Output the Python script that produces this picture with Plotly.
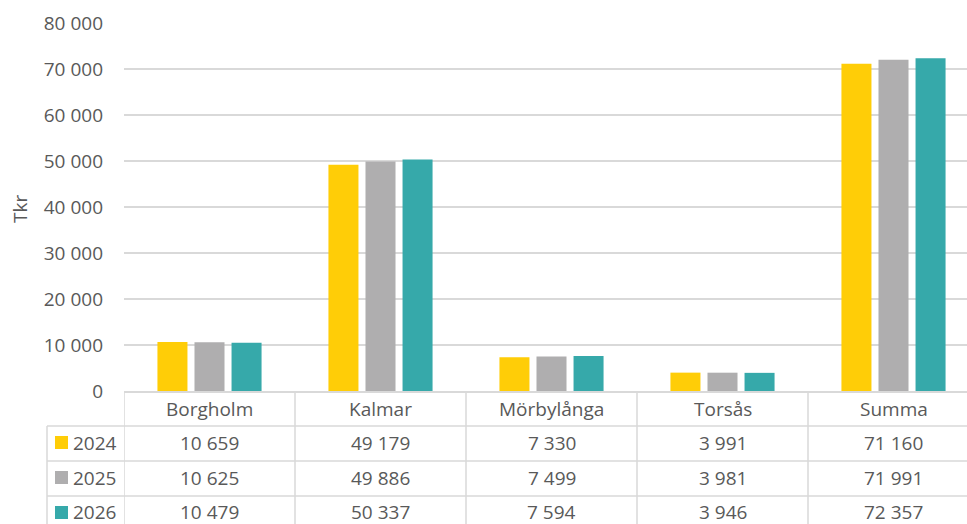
import plotly.graph_objects as go

categories = ["Borgholm", "Kalmar", "Mörbylånga", "Torsås", "Summa"]
years = ["2024", "2025", "2026"]
values_2024 = [10659, 49179, 7330, 3991, 71160]
values_2025 = [10625, 49886, 7499, 3981, 71991]
values_2026 = [10479, 50337, 7594, 3946, 72357]
colors = ["#FFCD07", "#AFAEAF", "#36A9AA"]
y_ticks = [0, 10000, 20000, 30000, 40000, 50000, 60000, 70000, 80000]

series = [values_2024, values_2025, values_2026]

W, H = 967, 524
ML, MR, MT, MB = 124, 0, 23, 133
PW = W - ML - MR
PH = H - MT - MB
CAT_PX = 171.0
x_idx = list(range(len(categories)))
x_max = -0.5 + PW / CAT_PX

TEXT = "#595959"
GRID = "#D9D9D9"
FONT = "Open Sans"
FS = 19


def px_x(p):
    return (p - ML) / PW


def px_y(p):
    return (MT + PH - p) / PH


def fmt(v):
    return f"{v:,}".replace(",", " ")


fig = go.Figure()
for yr, vals, col in zip(years, series, colors):
    fig.add_trace(go.Bar(x=x_idx, y=vals, name=yr, marker=dict(color=col, line=dict(width=0)),
                         hoverinfo="x+y+name"))

shapes = []
annotations = []

row_lines = [426, 461, 496]
for p in row_lines:
    shapes.append(dict(type="line", xref="paper", yref="paper", x0=px_x(47), x1=1,
                       y0=px_y(p), y1=px_y(p), line=dict(color=GRID, width=1.5), layer="above"))
# vertical lines of table
shapes.append(dict(type="line", xref="paper", yref="paper", x0=px_x(47), x1=px_x(47),
                   y0=px_y(426), y1=px_y(H + 5), line=dict(color=GRID, width=1.5)))
for i in range(len(categories)):
    xb = i - 0.5
    shapes.append(dict(type="line", xref="x", yref="paper", x0=xb, x1=xb,
                       y0=px_y(392), y1=px_y(H + 5), line=dict(color=GRID, width=1.5)))

header_y = px_y(408.5)
row_y = [px_y(442.5), px_y(477.5), px_y(511.5)]
for i, c in enumerate(categories):
    annotations.append(dict(x=i, y=header_y, xref="x", yref="paper", text=c, showarrow=False,
                            font=dict(family=FONT, size=FS, color=TEXT), xanchor="center", yanchor="middle"))
    for r, vals in enumerate(series):
        annotations.append(dict(x=i, y=row_y[r], xref="x", yref="paper", text=fmt(vals[i]), showarrow=False,
                                font=dict(family=FONT, size=FS, color=TEXT), xanchor="center", yanchor="middle"))

for r, (yr, col) in enumerate(zip(years, colors)):
    cy = 442.5 + 35 * r
    shapes.append(dict(type="rect", xref="paper", yref="paper", x0=px_x(55), x1=px_x(68),
                       y0=px_y(cy - 6.5), y1=px_y(cy + 6.5), fillcolor=col, line=dict(width=0)))
    annotations.append(dict(x=px_x(71), y=row_y[r], xref="paper", yref="paper", text=yr, showarrow=False,
                            font=dict(family=FONT, size=FS, color=TEXT), xanchor="left", yanchor="middle"))

annotations.append(dict(x=px_x(20), y=px_y(209), xref="paper", yref="paper", text="Tkr", textangle=-90,
                        showarrow=False, font=dict(family=FONT, size=FS, color=TEXT),
                        xanchor="center", yanchor="middle"))

fig.update_layout(
    width=W, height=H,
    margin=dict(l=ML, r=MR, t=MT, b=MB, pad=0, autoexpand=False),
    paper_bgcolor="white", plot_bgcolor="white",
    barmode="group", bargap=0.35, bargroupgap=0.19,
    showlegend=False,
    separators=", ",
    font=dict(family=FONT, size=FS, color=TEXT),
    shapes=shapes, annotations=annotations,
    xaxis=dict(range=[-0.5, x_max], showticklabels=False, showgrid=False, zeroline=False,
               showline=True, linecolor=GRID, linewidth=2, ticks="", fixedrange=True,
               automargin=False),
    yaxis=dict(range=[0, 80000], tickvals=y_ticks, tickformat=",d", showgrid=True, gridcolor=GRID,
               gridwidth=1.5, zeroline=False, showline=False, ticks="", ticklabelstandoff=20,
               tickfont=dict(family=FONT, size=FS, color=TEXT), fixedrange=True, automargin=False),
)

fig.write_html(
    "out.html",
    config={"displayModeBar": False},
    post_script="document.body.style.margin='0';document.body.style.overflow='hidden';",
)
